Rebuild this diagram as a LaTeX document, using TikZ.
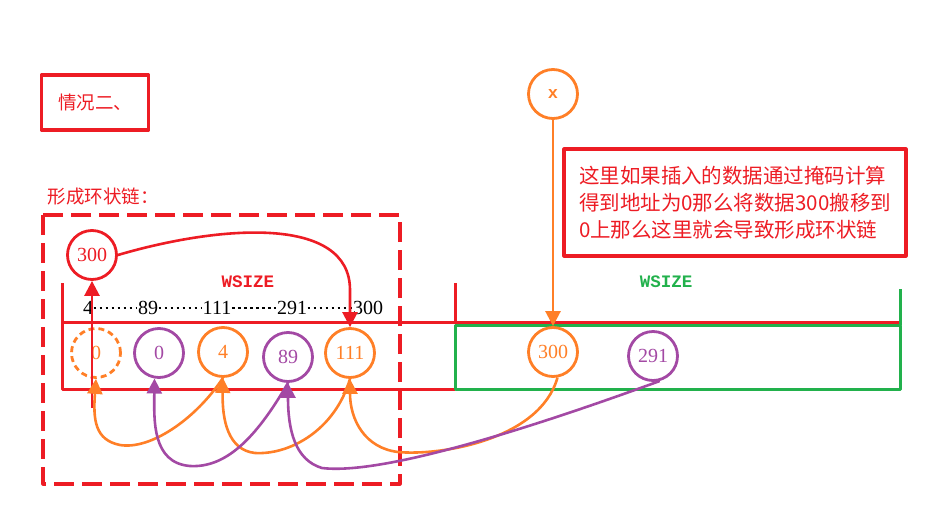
\documentclass[tikz,border=0pt]{standalone}
\usepackage{fontspec}
\setmainfont{Liberation Serif}
\setmonofont{Liberation Mono}
\newfontfamily\cjk{Noto Sans CJK SC}
\usetikzlibrary{arrows.meta}
\definecolor{pred}{HTML}{ED1C24}
\definecolor{porange}{HTML}{FF7F27}
\definecolor{ppurple}{HTML}{A349A4}
\definecolor{pgreen}{HTML}{22B14C}
\tikzset{
  slot/.style={circle,draw,line width=2.8pt,minimum size=49pt,inner sep=0pt,
    font=\fontsize{20}{20}\selectfont},
  link/.style={line width=2.6pt,-{Triangle[width=15pt,length=15pt]}},
  wline/.style={line width=3pt},
  tag/.style={font=\ttfamily\bfseries\fontsize{17.5}{17.5}\selectfont},
  num/.style={inner sep=0.5pt,font=\fontsize{20}{20}\selectfont},
}
\begin{document}
\begin{tikzpicture}[x=1pt,y=-1pt,line join=round]
    \useasboundingbox (0,0) rectangle (951,509);

    % --- Title ---
    \node[draw=pred,line width=3.2pt,minimum width=107pt,minimum height=55pt,text=pred,
      font=\cjk\fontsize{18.5}{18.5}\selectfont] (case) at (95,102.5) {情况二、};
    \node[anchor=west,text=pred,font=\cjk\fontsize{18.5}{18.5}\selectfont] (ring) at (44,197) {形成环状链：};
    \draw[pred,line width=3.2pt,dash pattern=on 20pt off 8pt] (43,215) rectangle (400,484);

    % --- Windows ---
    \draw[pred,wline] (62,283) -- (62,389) -- (455,389);
    \draw[pred,wline] (62,322) -- (900,322);
    \draw[pred,wline] (455,283) -- (455,322);
    \draw[pgreen,wline] (455,325) rectangle (900,389);
    \draw[pgreen,wline] (900,289) -- (900,325);
    \node[tag,text=pred] (wred) at (248,282) {WSIZE};
    \node[tag,text=pgreen] (wgreen) at (666,282) {WSIZE};

    % --- Number line ---
    \node[num] (n4) at (88,308) {4};
    \node[num] (n89) at (148,308) {89};
    \node[num] (n111) at (217,308) {111};
    \node[num] (n291) at (292,308) {291};
    \node[num] (n300) at (368,308) {300};
    \foreach \a/\b in {n4/n89,n89/n111,n111/n291,n291/n300}
      \draw[line width=2.6pt,dash pattern=on 2.6pt off 3.4pt] (\a) -- (\b);

    % --- Slots ---
    \node[slot,draw=porange,text=porange,dash pattern=on 6pt off 4pt] (s0d) at (96,353) {0};
    \node[slot,draw=ppurple,text=ppurple] (s0) at (159,353) {0};
    \node[slot,draw=porange,text=porange] (s4) at (223,352) {4};
    \node[slot,draw=ppurple,text=ppurple] (s89) at (288,357) {89};
    \node[slot,draw=porange,text=porange] (s111) at (350,353) {111};
    \node[slot,draw=pred,text=pred] (r300) at (92,255) {300};
    \node[slot,draw=porange,text=porange] (w300) at (553,352) {300};
    \node[slot,draw=ppurple,text=ppurple] (w291) at (653,356) {291};
    \node[slot,draw=porange,text=porange,font=\ttfamily\bfseries\fontsize{17}{17}\selectfont] (x) at (553,94) {x};

    % --- Note ---
    \node[draw=pred,line width=3.2pt,minimum width=342pt,minimum height=107pt,text=pred,align=left,
      font=\cjk\fontsize{20.5}{27}\selectfont] (note) at (735,202.5)
      {这里如果插入的数据通过掩码计算\\得到地址为0那么将数据300搬移到\\0上那么这里就会导致形成环状链};

    % --- Links ---
    \coordinate (tail) at (92,408);
    \draw[link,pred] (tail) -- (r300);
    \draw[link,pred] (r300.east) .. controls (220,225) and (350,215) .. (350,290) -- (s111.north);
    \draw[link,porange] (x) -- (w300);
    \draw[link,porange] (w300.-80) .. controls (540,440) and (440,456) .. (398,452)
      .. controls (365,448) and (350,420) .. (s111.south);
    \draw[link,porange] (s111.south) .. controls (335,430) and (290,455) .. (255,453)
      .. controls (228,450) and (222,420) .. (s4.south);
    \draw[link,porange] (s4.south) .. controls (195,420) and (150,450) .. (120,445)
      .. controls (95,440) and (93,420) .. (s0d.south);
    \draw[link,ppurple] (w291.-75) .. controls (520,432) and (380,475) .. (322,468)
      .. controls (295,460) and (288,430) .. (s89.south);
    \draw[link,ppurple] (s89.south) .. controls (255,440) and (225,468) .. (190,466)
      .. controls (152,463) and (154,420) .. (s0.-100);

  \end{tikzpicture}
\end{document}
